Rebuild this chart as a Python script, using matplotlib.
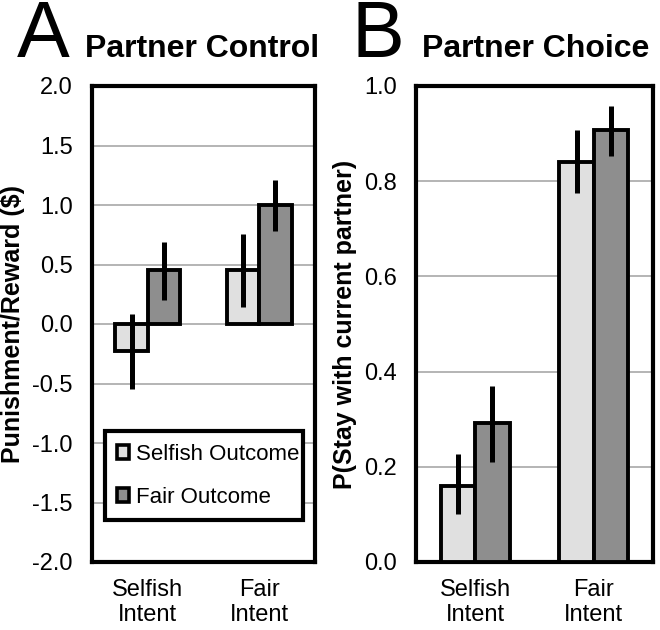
import numpy as np
import matplotlib
matplotlib.use("Agg")
import matplotlib.pyplot as plt

plt.rcParams["font.family"] = ["Liberation Sans", "DejaVu Sans"]

# ---- data ----
groups = ["Selfish\nIntent", "Fair\nIntent"]
series = ["Selfish Outcome", "Fair Outcome"]

# panel A: partner control
ctrl_selfish = [-0.23, 0.45]
ctrl_selfish_lo = [-0.55, 0.14]
ctrl_selfish_hi = [0.08, 0.76]
ctrl_fair = [0.45, 1.00]
ctrl_fair_lo = [0.20, 0.78]
ctrl_fair_hi = [0.69, 1.21]

# panel B: partner choice
choice_selfish = [0.16, 0.84]
choice_selfish_lo = [0.10, 0.775]
choice_selfish_hi = [0.227, 0.907]
choice_fair = [0.293, 0.907]
choice_fair_lo = [0.21, 0.853]
choice_fair_hi = [0.37, 0.958]

light = "#e0e0e0"
dark = "#8e8e8e"
W, H = 660, 630


def px(x, y):
    return x / W, 1 - y / H


def draw(ax, vals, yticks, ylabel):
    x = np.arange(len(groups))
    bw = 0.29
    for off, (v, lo, hi), col in zip((-bw / 2, bw / 2), vals, (light, dark)):
        v = np.array(v)
        err = np.array([v - np.array(lo), np.array(hi) - v])
        ax.bar(x + off, v, bw, color=col, edgecolor="black", linewidth=2.8, zorder=3)
        ax.errorbar(x + off, v, yerr=err, fmt="none", ecolor="black",
                    elinewidth=3.6, capsize=0, zorder=4)
    ax.set_xlim(-0.5, 1.5)
    ax.set_ylim(yticks[0], yticks[-1])
    ax.set_yticks(yticks)
    ax.set_yticklabels([f"{t:.1f}" for t in yticks])
    ax.set_xticks(x)
    ax.set_xticklabels(groups, linespacing=1.2)
    ax.tick_params(length=0, labelsize=17)
    ax.tick_params(axis="y", pad=14)
    ax.tick_params(axis="x", pad=12)
    ax.yaxis.grid(True, color="#a8a8a8", linewidth=1.2, zorder=0)
    ax.set_axisbelow(True)
    for s in ax.spines.values():
        s.set_linewidth(3.0)
    ax.set_ylabel(ylabel, fontsize=18, fontweight="bold", labelpad=5)


fig = plt.figure(figsize=(6.6, 6.3), dpi=100)

l, b = px(92, 562)
r, t = px(315, 86)
axA = fig.add_axes([l, b, r - l, t - b])
draw(axA, [(ctrl_selfish, ctrl_selfish_lo, ctrl_selfish_hi),
           (ctrl_fair, ctrl_fair_lo, ctrl_fair_hi)],
     np.arange(-2.0, 2.01, 0.5), "Punishment/Reward ($)")

l, b = px(416, 562)
r, t = px(653, 86)
axB = fig.add_axes([l, b, r - l, t - b])
draw(axB, [(choice_selfish, choice_selfish_lo, choice_selfish_hi),
           (choice_fair, choice_fair_lo, choice_fair_hi)],
     np.arange(0.0, 1.01, 0.2), "P(Stay with current partner)")

# legend in panel A
handles = [plt.Rectangle((0, 0), 1, 1, facecolor=c, edgecolor="black", linewidth=2.6)
           for c in (light, dark)]
leg = axA.legend(handles, series, loc="lower left",
                 bbox_to_anchor=(0.058, 0.088, 0.888, 0.2), mode="expand",
                 fontsize=16, handlelength=0.55, handleheight=0.55,
                 handletextpad=0.3, labelspacing=1.0, borderpad=0.55,
                 borderaxespad=0, fancybox=False, edgecolor="black", framealpha=1)
leg.get_frame().set_linewidth(3.0)

# panel letters and titles
fig.text(*px(17, 57), "A", fontsize=57, va="baseline", ha="left")
fig.text(*px(85, 57), "Partner Control", fontsize=23, fontweight="bold",
         va="baseline", ha="left")
fig.text(*px(352, 57), "B", fontsize=57, va="baseline", ha="left")
fig.text(*px(422, 57), "Partner Choice", fontsize=23, fontweight="bold",
         va="baseline", ha="left")

fig.savefig("out.png", dpi=100)
